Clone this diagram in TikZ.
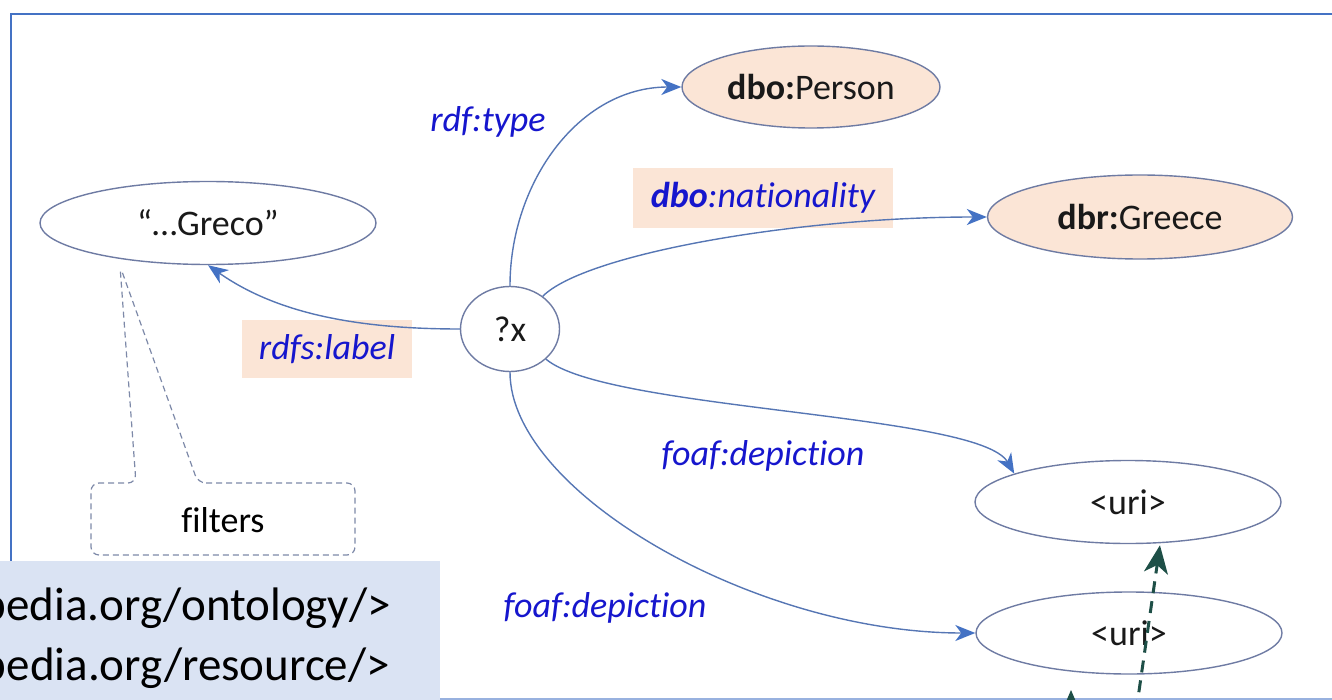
\documentclass[tikz,border=0pt]{standalone}
\usepackage{fontspec}
\setmainfont{Carlito}[Ligatures=NoCommon]
\usetikzlibrary{shapes.geometric,arrows.meta}
\definecolor{frameblue}{HTML}{4472C4}
\definecolor{edgeblue}{HTML}{5676B4}
\definecolor{nodeline}{HTML}{6E7BA3}
\definecolor{peach}{HTML}{FBE5D6}
\definecolor{lblue}{RGB}{22,22,205}
\definecolor{prefbg}{HTML}{DAE3F3}
\definecolor{darkteal}{HTML}{1E4F47}
\definecolor{callline}{HTML}{7D89A8}

\begin{document}
\begin{tikzpicture}[x=0.5pt,y=0.5pt,font=\fontsize{18}{21}\selectfont,
    enode/.style={draw=nodeline,line width=0.7pt,ellipse,inner sep=0pt,text=black!90},
    fnode/.style={enode,fill=peach},
    lbl/.style={text=lblue,font=\fontsize{18}{21}\selectfont\itshape,inner sep=0pt},
    lblbox/.style={lbl,fill=peach},
    rel/.style={draw=edgeblue,line width=0.7pt,-{Stealth[length=10pt,width=8pt,inset=3pt,color=frameblue]}},
    hint/.style={draw=darkteal,line width=1.5pt,dash pattern=on 6pt off 4pt,-{Stealth[length=14pt,width=12pt,inset=4pt]}}]
    \useasboundingbox (0,0) rectangle (1332,-700);
    \clip (0,0) rectangle (1332,-700);

    \draw[frameblue!55,line width=1pt] (11,-699) -- (1340,-699);
    \draw[frameblue,line width=1pt] (11,-699) -- (11,-14) -- (1340,-14);

    \node[enode,minimum width=168pt,minimum height=41.5pt] (greco) at (208,-223) {“…Greco”};
    \node[enode,minimum width=49.5pt,minimum height=42.5pt] (qx) at (510,-329) {?x};
    \node[fnode,minimum width=129pt,minimum height=41pt] (person) at (811,-87) {\textbf{dbo:}Person};
    \node[fnode,minimum width=152.5pt,minimum height=42pt] (greece) at (1140,-217) {\textbf{dbr:}Greece};
    \node[enode,minimum width=153pt,minimum height=41.5pt] (uri1) at (1128,-502) {<uri>};
    \node[enode,minimum width=153pt,minimum height=41pt] (uri2) at (1129,-633) {<uri>};

    \node[lbl,anchor=base] (ltype) at (488,-132) {rdf:type};
    \node[lblbox,minimum width=130pt,minimum height=30pt] (lnat) at (763,-198) {\textbf{dbo}:nationality};
    \node[lblbox,minimum width=85pt,minimum height=29pt] (llabel) at (327,-349) {rdfs:label};
    \node[lbl,anchor=base] (ldep1) at (763,-465) {foaf:depiction};
    \node[lbl,anchor=base] (ldep2) at (605,-617) {foaf:depiction};

    \draw[rel] (qx.west) .. controls +(180:110) and +(-35:80) .. (greco.south);
    \draw[rel] (qx.north) to[out=90,in=180] (person.west);
    \draw[rel] (qx.45) .. controls +(45:60) and +(180:190) .. (greece.west);
    \draw[rel] (qx.-40) .. controls +(-40:80) and +(120:70) .. (uri1.166);
    \draw[rel] (qx.south) .. controls +(-90:120) and +(180:220) .. (uri2.west);

    \coordinate (tip) at (120,-266);
    \node (filt) at (223,-520) {filters};
    \draw[callline,line width=0.6pt,dash pattern=on 3pt off 2pt,rounded corners=4pt]
        (198,-483) -- (355,-483) -- (355,-555) -- (91,-555) -- (91,-483) -- (136,-483) -- (tip) -- cycle;

    \fill[prefbg] (-5,-561) rectangle (440,-705);
    \node[anchor=base east,font=\fontsize{23.5}{28}\selectfont] (pre1) at (398,-620) {pedia.org/ontology/>};
    \node[anchor=base east,font=\fontsize{23.5}{28}\selectfont] (pre2) at (397,-680) {pedia.org/resource/>};

    \coordinate (h1) at (1136,-712);
    \coordinate (h2a) at (1071,-760);
    \coordinate (h2b) at (1071,-690);
    \draw[hint,shorten >=1pt] (h1) -- (uri1.-52);
    \draw[hint] (h2a) -- (h2b);
\end{tikzpicture}
\end{document}
